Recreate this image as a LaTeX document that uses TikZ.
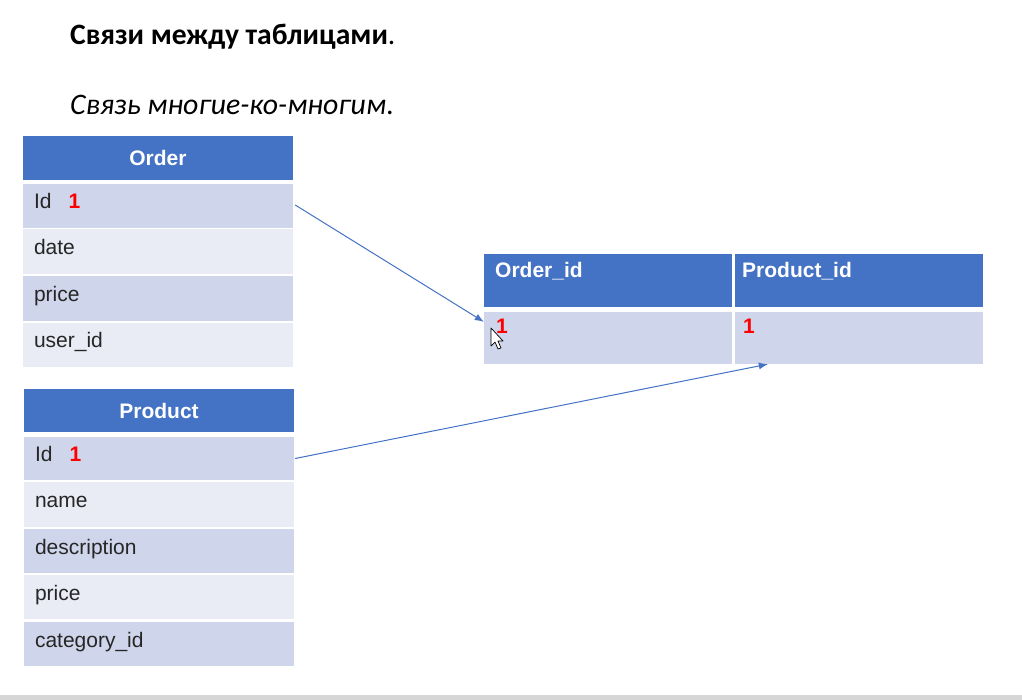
\documentclass[tikz,border=0pt]{standalone}
\usepackage{fontspec}
\setmainfont{Liberation Sans}
\newfontfamily\calfont{Carlito}
\usetikzlibrary{arrows.meta}
\definecolor{hdrblue}{HTML}{4472C4}
\definecolor{rowdark}{HTML}{CFD5EA}
\definecolor{rowlight}{HTML}{E9EBF5}
\definecolor{arrowblue}{HTML}{4472C4}
\definecolor{stripgray}{HTML}{D6D6D6}
\definecolor{keyred}{HTML}{FF0000}
\tikzset{
  hdrcell/.style={fill=hdrblue, draw=none, inner sep=0pt, anchor=center},
  darkcell/.style={fill=rowdark, draw=none, inner sep=0pt, anchor=center},
  lightcell/.style={fill=rowlight, draw=none, inner sep=0pt, anchor=center},
  hdrtxt/.style={inner sep=0pt, text=white, font=\fontsize{21}{25}\selectfont\bfseries},
  rowtxt/.style={inner sep=0pt, text=black!85, font=\fontsize{21}{25}\selectfont, anchor=base west},
  redone/.style={inner sep=0pt, text=keyred, font=\fontsize{21}{25}\selectfont\bfseries, anchor=base west},
  link/.style={draw=arrowblue, line width=1pt, -{Latex[length=9pt,width=7pt]}},
}
\newcommand{\keyone}{\textcolor{keyred}{\bfseries 1}}
\begin{document}
\begin{tikzpicture}[x=1pt,y=-1pt]
\useasboundingbox (0,0) rectangle (1022,700);
\fill[white] (0,0) rectangle (1022,700);
\fill[stripgray] (0,695) rectangle (1022,700);

% titles
\node[inner sep=0pt, anchor=base west, font=\calfont\fontsize{29.6}{34}\selectfont] (title) at (70,45) {{\bfseries Связи между таблицами}.};
\node[inner sep=0pt, anchor=base west, font=\calfont\fontsize{29.8}{35}\selectfont] (subtitle) at (70,115) {{\itshape Связь многие-ко-многим}.};

% Order table
\node[hdrcell, minimum width=270pt, minimum height=44pt] (oh) at (158,158) {};
\node[darkcell, minimum width=270pt, minimum height=44pt] (o1) at (158,206) {};
\node[lightcell, minimum width=270pt, minimum height=45pt] (o2) at (158,251.5) {};
\node[darkcell, minimum width=270pt, minimum height=45pt] (o3) at (158,298.5) {};
\node[lightcell, minimum width=270pt, minimum height=44pt] (o4) at (158,345) {};
\node[hdrtxt, anchor=base] (oht) at ([yshift=-8pt]oh.center) {Order};
\node[rowtxt] (o1t) at ([xshift=11pt,yshift=-3pt]o1.west) {Id\hspace{17pt}\keyone};
\node[rowtxt] (o2t) at ([xshift=11pt,yshift=-3pt]o2.west) {date};
\node[rowtxt] (o3t) at ([xshift=11pt,yshift=-3pt]o3.west) {price};
\node[rowtxt] (o4t) at ([xshift=11pt,yshift=-3pt]o4.west) {user\_id};

% Product table
\node[hdrcell, minimum width=270pt, minimum height=43pt] (ph) at (159,410.5) {};
\node[darkcell, minimum width=270pt, minimum height=43pt] (p1) at (159,458.5) {};
\node[lightcell, minimum width=270pt, minimum height=45pt] (p2) at (159,504.5) {};
\node[darkcell, minimum width=270pt, minimum height=44pt] (p3) at (159,551) {};
\node[lightcell, minimum width=270pt, minimum height=44pt] (p4) at (159,597) {};
\node[darkcell, minimum width=270pt, minimum height=44pt] (p5) at (159,644) {};
\node[hdrtxt, anchor=base] (pht) at ([yshift=-8pt]ph.center) {Product};
\node[rowtxt] (p1t) at ([xshift=11pt,yshift=-3pt]p1.west) {Id\hspace{17pt}\keyone};
\node[rowtxt] (p2t) at ([xshift=11pt,yshift=-3pt]p2.west) {name};
\node[rowtxt] (p3t) at ([xshift=11pt,yshift=-3pt]p3.west) {description};
\node[rowtxt] (p4t) at ([xshift=11pt,yshift=-3pt]p4.west) {price};
\node[rowtxt] (p5t) at ([xshift=11pt,yshift=-3pt]p5.west) {category\_id};

% Junction table
\node[hdrcell, minimum width=248pt, minimum height=53pt] (jh1) at (608,280.5) {};
\node[hdrcell, minimum width=248pt, minimum height=53pt] (jh2) at (859,280.5) {};
\node[darkcell, minimum width=248pt, minimum height=52pt] (j1) at (608,338) {};
\node[darkcell, minimum width=248pt, minimum height=52pt] (j2) at (859,338) {};
\node[hdrtxt, anchor=base west] (jh1l) at (495,278) {Order\_id};
\node[hdrtxt, anchor=base west] (jh2l) at (742,278) {Product\_id};
\node[redone] (j1t) at (496,334) {1};
\node[redone] (j2t) at (743,334) {1};

% connectors
\coordinate (oend) at ([yshift=-10pt]j1.north west);
\coordinate (pend) at ([xshift=33pt]j2.south west);
\draw[link] ([xshift=2pt,yshift=1pt]o1.east) -- (oend);
\draw[link] ([xshift=1pt]p1.east) -- (pend);

% mouse cursor
\draw[black, line width=0.7pt, fill=white, line join=round]
  (491,328) -- (491,346) -- (495,342) -- (498,349) -- (501,348) -- (498,341) -- (503,341) -- cycle;
\end{tikzpicture}
\end{document}
